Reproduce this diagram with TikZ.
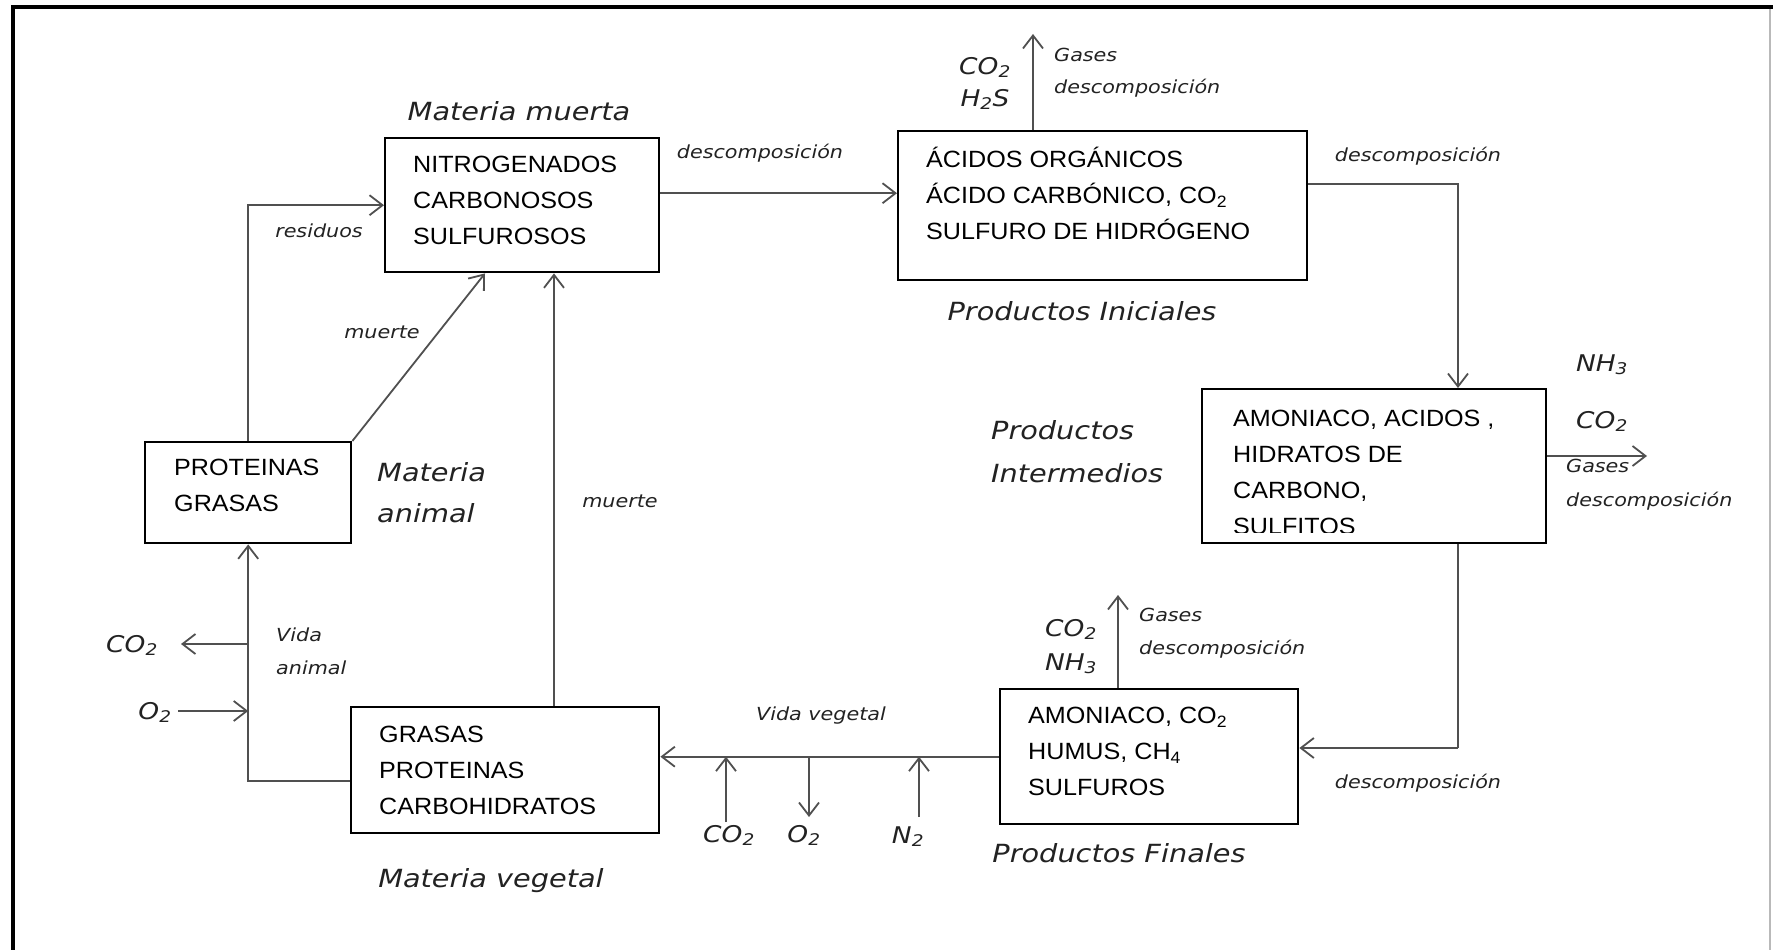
\documentclass[tikz,border=0pt]{standalone}
\usepackage{fontspec}
\newfontfamily\boxfont{Liberation Sans}[FakeStretch=1.07]
\newfontfamily\labfont{DejaVu Sans}[FakeStretch=1.15]
\usetikzlibrary{arrows.meta,calc}
\definecolor{linegray}{HTML}{505050}
\definecolor{inkgray}{HTML}{222222}
\begin{document}
\begin{tikzpicture}[x=1pt,y=-1pt,
  box/.style={draw=black,line width=2.4pt,anchor=north west,inner sep=0pt},
  boxtxt/.style={anchor=north west,inner sep=0pt,align=left,text=black,
    font=\boxfont\fontsize{23.5}{36}\selectfont},
  conn/.style={draw=linegray,line width=1.8pt},
  arr/.style={conn,-{Straight Barb[length=13pt,width=20pt]}},
  headlbl/.style={inner sep=0pt,text=inkgray,
    font=\labfont\itshape\fontsize{25}{30}\selectfont,text height=18pt,text depth=0pt},
  smalllbl/.style={inner sep=0pt,text=inkgray,
    font=\labfont\itshape\fontsize{18}{22}\selectfont,text height=13pt,text depth=0pt},
  chemlbl/.style={inner sep=0pt,text=inkgray,
    font=\labfont\itshape\fontsize{23}{28}\selectfont,text height=16.5pt,text depth=0pt},
]
\useasboundingbox (0,0) rectangle (1773,950);
\fill[white] (0,0) rectangle (1773,950);

% outer frame: heavy top and left rules, faint right rule
\draw[black,line width=4pt] (13,950) -- (13,7) -- (1773,7);
\draw[gray!55,line width=1.2pt] (1770,9) -- (1770,950);

% ---- boxes ----
\node[box,minimum width=274pt,minimum height=134pt] (muerta) at (384,137) {};
\node[box,minimum width=409pt,minimum height=149pt] (ini)    at (897,130) {};
\node[box,minimum width=344pt,minimum height=154pt] (inter)  at (1201,388) {};
\node[box,minimum width=298pt,minimum height=135pt] (fin)    at (999,688) {};
\node[box,minimum width=308pt,minimum height=126pt] (veg)    at (350,706) {};
\node[box,minimum width=206pt,minimum height=101pt] (prot)   at (144,441) {};

% ---- box contents ----
\node[boxtxt] (muertaT) at (413,146.8)
  {\strut NITROGENADOS\\\strut CARBONOSOS\\\strut SULFUROSOS};
\node[boxtxt] (iniT) at (926,142.3)
  {\strut ÁCIDOS ORGÁNICOS\\\strut ÁCIDO CARBÓNICO, CO\textsubscript{2}\\\strut SULFURO DE HIDRÓGENO};
% the last line runs into the box floor and is cut off
\begin{scope}
  \clip (1201,388) rectangle (1545,532);
  \node[boxtxt] (interT) at (1233,401.5)
    {\strut AMONIACO, ACIDOS ,\\\strut HIDRATOS DE\\\strut CARBONO,\\\strut SULFITOS};
\end{scope}
\node[boxtxt] (finT) at (1028,698.3)
  {\strut AMONIACO, CO\textsubscript{2}\\\strut HUMUS, CH\textsubscript{4}\\\strut SULFUROS};
\node[boxtxt] (vegT) at (379,717.3)
  {\strut GRASAS\\\strut PROTEINAS\\\strut CARBOHIDRATOS};
\node[boxtxt] (protT) at (174,450.3)
  {\strut PROTEINAS\\\strut GRASAS};

% ---- connectors ----
% animal matter: residues and death
\draw[arr] (prot.north) |- (muerta.west);
\draw[arr] (prot.north east) -- ($(muerta.south west)+(101,0)$);
% plant matter dies
\draw[arr] ($(veg.north west)+(204,0)$) coordinate (vm) -- (vm |- muerta.south);
% decomposition chain
\draw[arr] ($(muerta.east)+(0,-12)$) coordinate (d1) -- (d1 -| ini.west);
\draw[arr] ($(ini.east)+(0,-22)$) -| ($(inter.north west)+(257,0)$);
\draw[conn] ($(inter.south west)+(257,0)$) coordinate (d3) -- (d3 |- 0,748) coordinate (d3b);
\draw[arr] (d3b) -- (d3b -| fin.east);
% released gases
\coordinate (gIni) at (1033,34);
\draw[arr] (gIni |- ini.north) -- (gIni);
\coordinate (gInter) at (1647,456);
\draw[arr] (gInter -| inter.east) -- (gInter);
\coordinate (gFin) at (1118,595);
\draw[arr] (gFin |- fin.north) -- (gFin);
% plant life
\draw[arr] (fin.west) -- (fin.west -| veg.east);
\coordinate (inCO2) at (726,822);
\draw[arr] (inCO2) -- (inCO2 |- fin.west);
\coordinate (outO2) at (809,817);
\draw[arr] (outO2 |- fin.west) -- (outO2);
\coordinate (inN2) at (919,817);
\draw[arr] (inN2) -- (inN2 |- fin.west);
% animal life
\draw[arr] ($(veg.west)+(0,11)$) -| (prot.south);
\coordinate (aCO2) at (181,644);
\draw[arr] (aCO2 -| prot.south) -- (aCO2);
\coordinate (aO2) at (178,711);
\draw[arr] (aO2) -- (aO2 -| prot.south);

% ---- group titles ----
\node[headlbl] (tMuerta) at (519,111) {Materia muerta};
\node[headlbl] (tIni) at (1082,311) {Productos Iniciales};
\node[headlbl,anchor=west] (tInterA) at (991,430) {Productos};
\node[headlbl,anchor=west] (tInterB) at (991,473) {Intermedios};
\node[headlbl,anchor=west] (tAnimA) at (377,472) {Materia};
\node[headlbl,anchor=west] (tAnimB) at (377,513) {animal};
\node[headlbl] (tVeg) at (491,878) {Materia vegetal};
\node[headlbl] (tFin) at (1119,853) {Productos Finales};

% ---- connector labels ----
\node[smalllbl] (lD1) at (760,152) {descomposición};
\node[smalllbl] (lRes) at (319,231) {residuos};
\node[smalllbl] (lM1) at (382,332) {muerte};
\node[smalllbl] (lM2) at (620,501) {muerte};
\node[smalllbl,anchor=west] (lVA) at (276,635) {Vida};
\node[smalllbl,anchor=west] (lVB) at (276,668) {animal};
\node[smalllbl] (lVV) at (821,714) {Vida vegetal};
\node[smalllbl,anchor=west] (lG1a) at (1054,55) {Gases};
\node[smalllbl,anchor=west] (lG1b) at (1054,87) {descomposición};
\node[smalllbl] (lD2) at (1418,155) {descomposición};
\node[smalllbl,anchor=west] (lG2a) at (1566,466) {Gases};
\node[smalllbl,anchor=west] (lG2b) at (1566,500) {descomposición};
\node[smalllbl,anchor=west] (lG3a) at (1139,615) {Gases};
\node[smalllbl,anchor=west] (lG3b) at (1139,648) {descomposición};
\node[smalllbl] (lD3) at (1418,782) {descomposición};

% ---- chemical species ----
\node[chemlbl] (cIniA) at (985,66) {CO\textsubscript{2}};
\node[chemlbl] (cIniB) at (985,98) {H\textsubscript{2}S};
\node[chemlbl] (cIntA) at (1602,363) {NH\textsubscript{3}};
\node[chemlbl] (cIntB) at (1602,420) {CO\textsubscript{2}};
\node[chemlbl] (cFinA) at (1071,628) {CO\textsubscript{2}};
\node[chemlbl] (cFinB) at (1071,662) {NH\textsubscript{3}};
\node[chemlbl] (cAnA) at (132,644) {CO\textsubscript{2}};
\node[chemlbl] (cAnB) at (155,711) {O\textsubscript{2}};
\node[chemlbl] (cVegA) at (729,834) {CO\textsubscript{2}};
\node[chemlbl] (cVegB) at (804,834) {O\textsubscript{2}};
\node[chemlbl] (cVegC) at (908,835) {N\textsubscript{2}};
\end{tikzpicture}
\end{document}
